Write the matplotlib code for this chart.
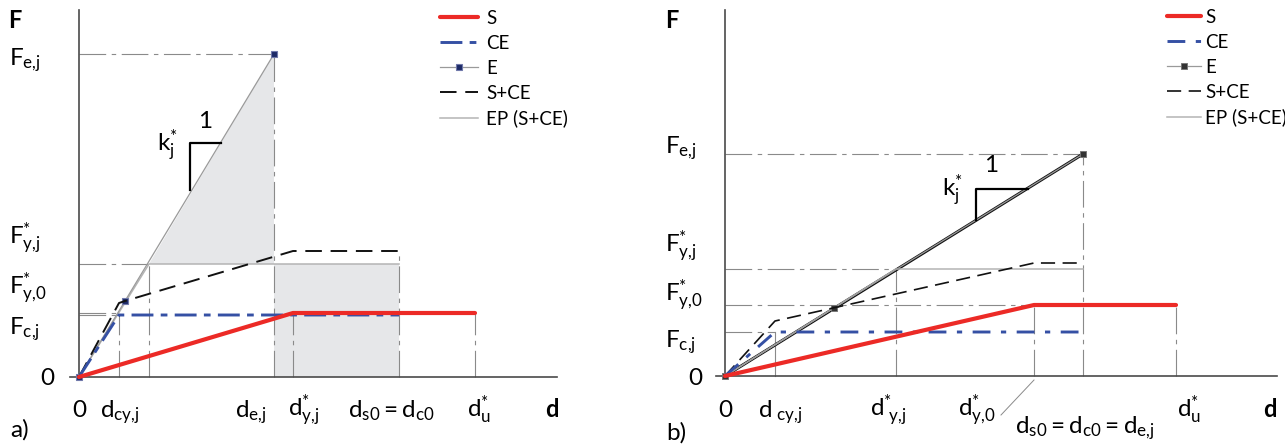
import matplotlib
matplotlib.use("Agg")
import matplotlib.pyplot as plt
from matplotlib.patches import Polygon, Rectangle

plt.rcParams['font.family'] = ['Lato', 'DejaVu Sans']
plt.rcParams['mathtext.fontset'] = 'custom'
plt.rcParams['mathtext.rm'] = 'Lato'
plt.rcParams['mathtext.it'] = 'Lato'
plt.rcParams['mathtext.bf'] = 'Lato:bold'
plt.rcParams['mathtext.default'] = 'regular'

# ---------------- data: panel a ----------------
a_dcy, a_dep, a_de, a_dy, a_ds0, a_du = 40, 70, 195, 214, 320, 396
a_Fe, a_Fyj, a_Fs, a_Fc, a_Fsc = 323, 113, 64, 62, 126
a_S_d = [0, 214, 396];        a_S_F = [0, 64, 64]
a_CE_d = [0, 40, 320];        a_CE_F = [0, 62, 62]
a_E_d = [0, 46, 195];         a_E_F = [0, 76, 323]
a_SCE_d = [0, 40, 46, 214, 320]; a_SCE_F = [0, 74, 76, 126, 126]
a_EP_d = [0, 70, 320];        a_EP_F = [0, 113, 113]

# ---------------- data: panel b ----------------
b_dcy, b_dyj, b_dy0, b_ds0, b_du = 50, 171, 309, 358, 451
b_Fe, b_Fyj, b_Fy0, b_Fc, b_Fsc = 222, 107, 71, 44, 113
b_S_d = [0, 309, 451];        b_S_F = [0, 71, 71]
b_CE_d = [0, 50, 358];        b_CE_F = [0, 44, 44]
b_E_d = [0, 109, 358];        b_E_F = [0, 68, 222]
b_SCE_d = [0, 50, 309, 358];  b_SCE_F = [0, 55, 113, 113]
b_EP_d = [0, 171, 358];       b_EP_F = [0, 107, 107]
b_K_d = [0, 358];             b_K_F = [0, 222]

legend_labels = ['S', 'CE', 'E', 'S+CE', 'EP (S+CE)']

RED = '#ec2a26'
BLUE = '#3550a4'
GREY = '#8a8a8a'
EPG = '#b4b4b4'
SHADE = '#e6e7e9'
AXC = '#4a4a4a'

W, H = 1285, 445
fig = plt.figure(figsize=(W / 100, H / 100), dpi=100)

REF_DASH = (0, (24, 5, 4, 5))
CE_DASH_A = (0, (7.5, 2.5, 2.3, 2.5))
CE_DASH_B = (0, (6.1, 3.6, 1.8, 3.6))
SCE_DASH = (0, (8.5, 4.5))


def setup(ax, xlim, ylim, ybound, xbound):
    ax.set_xlim(*xlim)
    ax.set_ylim(*ylim)
    ax.patch.set_alpha(0)
    for s in ['top', 'right']:
        ax.spines[s].set_visible(False)
    ax.spines['left'].set_position(('data', 0))
    ax.spines['bottom'].set_position(('data', 0))
    ax.spines['left'].set_bounds(*ybound)
    ax.spines['bottom'].set_bounds(*xbound)
    for s in ['left', 'bottom']:
        ax.spines[s].set_color(AXC)
        ax.spines[s].set_linewidth(1.2)
    ax.set_xticks([])
    ax.set_yticks([])


def ref(ax, xs, ys):
    ax.plot(xs, ys, color=GREY, lw=0.8, linestyle=REF_DASH, zorder=2)


FS = 17.5
LFS = 13.5

# ================= panel a =================
axa = fig.add_axes([0, 0, 640 / W, 1])
setup(axa, (-79, 561), (-68, 377), (0, 367), (-9, 478))

axa.add_patch(Polygon([(a_dep, a_Fyj), (a_de, a_Fe), (a_de, a_Fyj)],
                      closed=True, facecolor=SHADE, edgecolor='none', zorder=1))
axa.add_patch(Rectangle((a_de, 0), a_ds0 - a_de, a_Fyj,
                        facecolor=SHADE, edgecolor='none', zorder=1))

ref(axa, [0, a_de], [a_Fe, a_Fe])
ref(axa, [a_de, a_de], [0, a_Fe])
ref(axa, [0, a_dep], [a_Fyj, a_Fyj])
ref(axa, [a_dep, a_dep], [0, a_Fyj])
ref(axa, [0, a_dcy], [a_Fs, a_Fs])
ref(axa, [0, a_dcy], [a_Fc, a_Fc])
ref(axa, [a_dcy, a_dcy], [0, a_Fc])
ref(axa, [a_dy, a_dy], [0, a_Fs])
ref(axa, [a_ds0, a_ds0], [0, a_Fsc])
ref(axa, [a_du, a_du], [0, a_Fs])

la_EP, = axa.plot(a_EP_d, a_EP_F, color=EPG, lw=1.1, zorder=3)
la_E, = axa.plot(a_E_d, a_E_F, color='#9a9a9a', lw=0.9, marker='s', markersize=4.5,
                 markerfacecolor='#1c2966', markeredgecolor='#6f78aa',
                 markeredgewidth=0.8, zorder=4, clip_on=False)
la_SCE, = axa.plot(a_SCE_d, a_SCE_F, color='#111111', lw=1.4, linestyle=SCE_DASH, zorder=5)
la_CE, = axa.plot(a_CE_d, a_CE_F, color=BLUE, lw=2.1, linestyle=CE_DASH_A, zorder=6)
la_S, = axa.plot(a_S_d, a_S_F, color=RED, lw=3.0, solid_capstyle='round', zorder=7)

# slope triangle
axa.plot([111, 111, 142], [187, 234, 234], color='black', lw=1.6, zorder=8)
axa.text(78, 225, r'$k^{*}_{j}$', fontsize=FS, ha='left', va='baseline')
axa.text(126, 249, '1', fontsize=FS, ha='center', va='baseline')

# y labels
axa.text(-71, 349, 'F', fontsize=17, fontweight='bold', ha='left', va='baseline')
axa.text(-70, 312, r'$F_{e{,}j}$', fontsize=FS, ha='left', va='baseline')
axa.text(-70, 132, r'$F^{*}_{y{,}j}$', fontsize=FS, ha='left', va='baseline')
axa.text(-70, 82, r'$F^{*}_{y{,}0}$', fontsize=FS, ha='left', va='baseline')
axa.text(-70, 43, r'$F_{c{,}j}$', fontsize=FS, ha='left', va='baseline')
axa.text(-32, -8, '0', fontsize=FS, ha='center', va='baseline')

# x labels
axa.text(0, -40, '0', fontsize=FS, ha='center', va='baseline')
axa.text(21, -40, r'$d_{cy{,}j}$', fontsize=FS, ha='left', va='baseline')
axa.text(156, -40, r'$d_{e{,}j}$', fontsize=FS, ha='left', va='baseline')
axa.text(209, -40, r'$d^{*}_{y{,}j}$', fontsize=FS, ha='left', va='baseline')
axa.text(269, -40, r'$d_{s0} = d_{c0}$', fontsize=FS, ha='left', va='baseline')
axa.text(388, -40, r'$d^{*}_{u}$', fontsize=FS, ha='left', va='baseline')
axa.text(466, -40, 'd', fontsize=17, fontweight='bold', ha='left', va='baseline')
axa.text(-69, -60, 'a)', fontsize=FS, ha='left', va='baseline')

axa.legend([la_S, la_CE, la_E, la_SCE, la_EP], legend_labels,
           loc='upper left', bbox_to_anchor=(361, 367),
           bbox_transform=axa.transData, frameon=False, fontsize=LFS,
           handlelength=2.0, handletextpad=0.45, labelspacing=0.42,
           borderpad=0, borderaxespad=0)

# ================= panel b =================
axb = fig.add_axes([640 / W, 0, 645 / W, 1])
setup(axb, (-85, 560), (-69, 376), (0, 366), (-9, 552))

ref(axb, [0, b_ds0], [b_Fe, b_Fe])
ref(axb, [b_ds0, b_ds0], [0, b_Fe])
ref(axb, [0, b_dyj], [b_Fyj, b_Fyj])
ref(axb, [b_dyj, b_dyj], [0, b_Fyj])
ref(axb, [0, b_dy0], [b_Fy0, b_Fy0])
ref(axb, [b_dy0, b_dy0], [0, b_Fy0])
ref(axb, [0, b_dcy], [b_Fc, b_Fc])
axb.plot([b_dcy, b_dcy], [0, b_Fc], color=GREY, lw=0.8, zorder=2)
ref(axb, [b_du, b_du], [0, b_Fy0])
axb.plot([b_dy0, 276], [-4, -39], color=GREY, lw=0.7, clip_on=False)

axb.plot(b_K_d, b_K_F, color='#111111', lw=2.2, zorder=3)
lb_EP, = axb.plot(b_EP_d, b_EP_F, color=EPG, lw=1.1, zorder=4)
lb_E, = axb.plot(b_E_d, b_E_F, color='#9a9a9a', lw=0.9, marker='s', markersize=3.8,
                 markerfacecolor='#333333', markeredgecolor='#777777',
                 markeredgewidth=0.7, zorder=4, clip_on=False)
lb_SCE, = axb.plot(b_SCE_d, b_SCE_F, color='#111111', lw=1.2, linestyle=SCE_DASH, zorder=5)
lb_CE, = axb.plot(b_CE_d, b_CE_F, color=BLUE, lw=2.1, linestyle=CE_DASH_B, zorder=6)
lb_S, = axb.plot(b_S_d, b_S_F, color=RED, lw=3.0, solid_capstyle='round', zorder=7)

axb.plot([251, 251, 303], [156, 187, 187], color='black', lw=1.6, zorder=8)
axb.text(217, 179, r'$k^{*}_{j}$', fontsize=FS, ha='left', va='baseline')
axb.text(266, 204, '1', fontsize=FS, ha='center', va='baseline')

axb.text(-60, 348, 'F', fontsize=17, fontweight='bold', ha='left', va='baseline')
axb.text(-60, 223, r'$F_{e{,}j}$', fontsize=FS, ha='left', va='baseline')
axb.text(-60, 123, r'$F^{*}_{y{,}j}$', fontsize=FS, ha='left', va='baseline')
axb.text(-60, 74, r'$F^{*}_{y{,}0}$', fontsize=FS, ha='left', va='baseline')
axb.text(-60, 29, r'$F_{c{,}j}$', fontsize=FS, ha='left', va='baseline')
axb.text(-30, -9, '0', fontsize=FS, ha='center', va='baseline')

axb.text(0, -41, '0', fontsize=FS, ha='center', va='baseline')
axb.text(33, -41, r'$d_{\ cy{,}j}$', fontsize=FS, ha='left', va='baseline')
axb.text(145, -41, r'$d^{*}_{\ y{,}j}$', fontsize=FS, ha='left', va='baseline')
axb.text(233, -41, r'$d^{*}_{y{,}0}$', fontsize=FS, ha='left', va='baseline')
axb.text(290, -57, r'$d_{s0}= d_{c0} = d_{e{,}j}$', fontsize=FS, ha='left', va='baseline')
axb.text(452, -41, r'$d^{*}_{u}$', fontsize=FS, ha='left', va='baseline')
axb.text(538, -41, 'd', fontsize=17, fontweight='bold', ha='left', va='baseline')
axb.text(-59, -64, 'b)', fontsize=FS, ha='left', va='baseline')

axb.legend([lb_S, lb_CE, lb_E, lb_SCE, lb_EP], legend_labels,
           loc='upper left', bbox_to_anchor=(442, 367),
           bbox_transform=axb.transData, frameon=False, fontsize=LFS,
           handlelength=1.8, handletextpad=0.22, labelspacing=0.42,
           borderpad=0, borderaxespad=0)

fig.savefig('out.png', dpi=100)
